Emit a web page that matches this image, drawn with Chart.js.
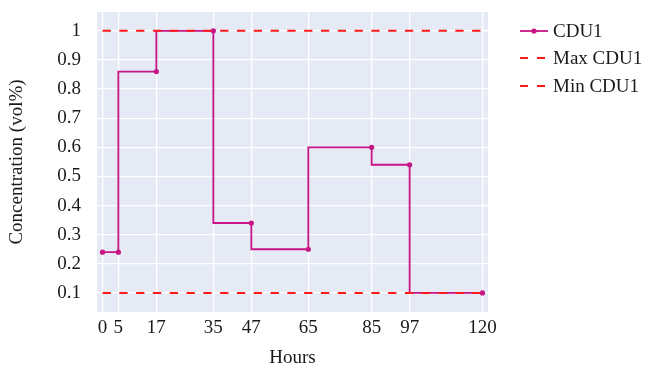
<!DOCTYPE html>
<html>
<head>
<meta charset="utf-8">
<script src="https://cdn.jsdelivr.net/npm/chart.js@4"></script>
<style>
  html, body { margin: 0; padding: 0; background: #fff; }
  #wrap { width: 648px; height: 365px; }
</style>
</head>
<body>
<div id="wrap"><canvas id="chart" width="648" height="365"></canvas></div>
<script>
const hours = [0, 5, 17, 35, 47, 65, 85, 97, 120];
const cdu1 = [0.24, 0.24, 0.86, 1.0, 0.34, 0.25, 0.6, 0.54, 0.1];
const maxLevel = [1, 1];
const minLevel = [0.1, 0.1];
const limitHours = [0, 120];
const xTicks = [0, 5, 17, 35, 47, 65, 85, 97, 120];
const yTicks = [0.1, 0.2, 0.3, 0.4, 0.5, 0.6, 0.7, 0.8, 0.9, 1];

const FONT = "'Liberation Serif', 'DejaVu Serif', serif";
const FSIZE = 19;
const colors = {
  cdu: "#c71585",
  limit: "#ff1a1a",
  plotBg: "#e5eaf5",
  text: "#1a1a1a",
};

// plot background
const bgPlugin = {
  id: "bg",
  beforeDraw(chart) {
    const { ctx, chartArea } = chart;
    ctx.save();
    ctx.fillStyle = colors.plotBg;
    ctx.fillRect(chartArea.left, chartArea.top, chartArea.right - chartArea.left, chartArea.bottom - chartArea.top);
    ctx.restore();
  },
};

// legend drawn by hand, outside on the right
const legendPlugin = {
  id: "sideLegend",
  afterDraw(chart) {
    const ctx = chart.ctx;
    const x0 = 520, x1 = 548, tx = 553;
    const rows = [31, 58, 86];
    ctx.save();
    ctx.font = FSIZE + "px " + FONT;
    ctx.textBaseline = "middle";
    // CDU1
    ctx.strokeStyle = colors.cdu;
    ctx.lineWidth = 1.8;
    ctx.beginPath();
    ctx.moveTo(x0, rows[0]);
    ctx.lineTo(x1, rows[0]);
    ctx.stroke();
    ctx.fillStyle = colors.cdu;
    ctx.beginPath();
    ctx.arc((x0 + x1) / 2, rows[0], 2.6, 0, Math.PI * 2);
    ctx.fill();
    ctx.fillStyle = colors.text;
    ctx.fillText("CDU1", tx, rows[0] + 1);
    // limits
    ["Max CDU1", "Min CDU1"].forEach((label, i) => {
      const y = rows[i + 1];
      ctx.strokeStyle = colors.limit;
      ctx.lineWidth = 2;
      ctx.beginPath();
      ctx.moveTo(x0, y);
      ctx.lineTo(x0 + 8, y);
      ctx.moveTo(x0 + 17, y);
      ctx.lineTo(x0 + 25, y);
      ctx.stroke();
      ctx.fillText(label, tx, y + 1);
    });
    ctx.restore();
  },
};

const toPoints = (xs, ys) => xs.map((x, i) => ({ x: x, y: ys[i] }));

new Chart(document.getElementById("chart"), {
  type: "line",
  data: {
    datasets: [
      {
        label: "CDU1",
        data: toPoints(hours, cdu1),
        borderColor: colors.cdu,
        backgroundColor: colors.cdu,
        borderWidth: 1.8,
        pointRadius: 2.6,
        pointBorderWidth: 0,
        stepped: "after",
        order: 1,
      },
      {
        label: "Max CDU1",
        data: toPoints(limitHours, maxLevel),
        borderColor: colors.limit,
        borderWidth: 2,
        borderDash: [8.3, 8.5],
        pointRadius: 0,
        order: 0,
      },
      {
        label: "Min CDU1",
        data: toPoints(limitHours, minLevel),
        borderColor: colors.limit,
        borderWidth: 2,
        borderDash: [8.3, 8.5],
        pointRadius: 0,
        order: 0,
      },
    ],
  },
  options: {
    responsive: false,
    animation: false,
    devicePixelRatio: 1,
    layout: { padding: { top: 12, right: 160, bottom: 0, left: 0 } },
    plugins: {
      legend: { display: false },
      tooltip: { enabled: false },
    },
    scales: {
      x: {
        type: "linear",
        min: -1.75,
        max: 121.75,
        afterBuildTicks: (scale) => {
          scale.ticks = xTicks.map((v) => ({ value: v }));
        },
        afterFit: (scale) => {
          scale.height = 53;
          scale.paddingLeft = 0;
          scale.paddingRight = 0;
        },
        border: { display: false },
        grid: { color: "#ffffff", lineWidth: 1.3, drawTicks: false },
        ticks: {
          autoSkip: false,
          maxRotation: 0,
          padding: 5,
          color: colors.text,
          font: { family: FONT, size: FSIZE },
        },
        title: {
          display: true,
          text: "Hours",
          color: colors.text,
          font: { family: FONT, size: FSIZE, lineHeight: 1 },
          padding: { top: 0, bottom: -3 },
        },
      },
      y: {
        type: "linear",
        min: 0.0345,
        max: 1.0645,
        afterBuildTicks: (scale) => {
          scale.ticks = yTicks.map((v) => ({ value: v }));
        },
        afterFit: (scale) => {
          scale.width = 97;
          scale.paddingTop = 0;
          scale.paddingBottom = 0;
        },
        border: { display: false },
        grid: { color: "#ffffff", lineWidth: 1.3, drawTicks: false },
        ticks: {
          padding: 16,
          color: colors.text,
          font: { family: FONT, size: FSIZE },
          callback: (v) => String(Math.round(v * 10) / 10),
        },
        title: {
          display: true,
          text: "Concentration (vol%)",
          color: colors.text,
          font: { family: FONT, size: FSIZE, lineHeight: 1 },
          padding: { top: 8, bottom: 0 },
        },
      },
    },
  },
  plugins: [bgPlugin, legendPlugin],
});
</script>
</body>
</html>
